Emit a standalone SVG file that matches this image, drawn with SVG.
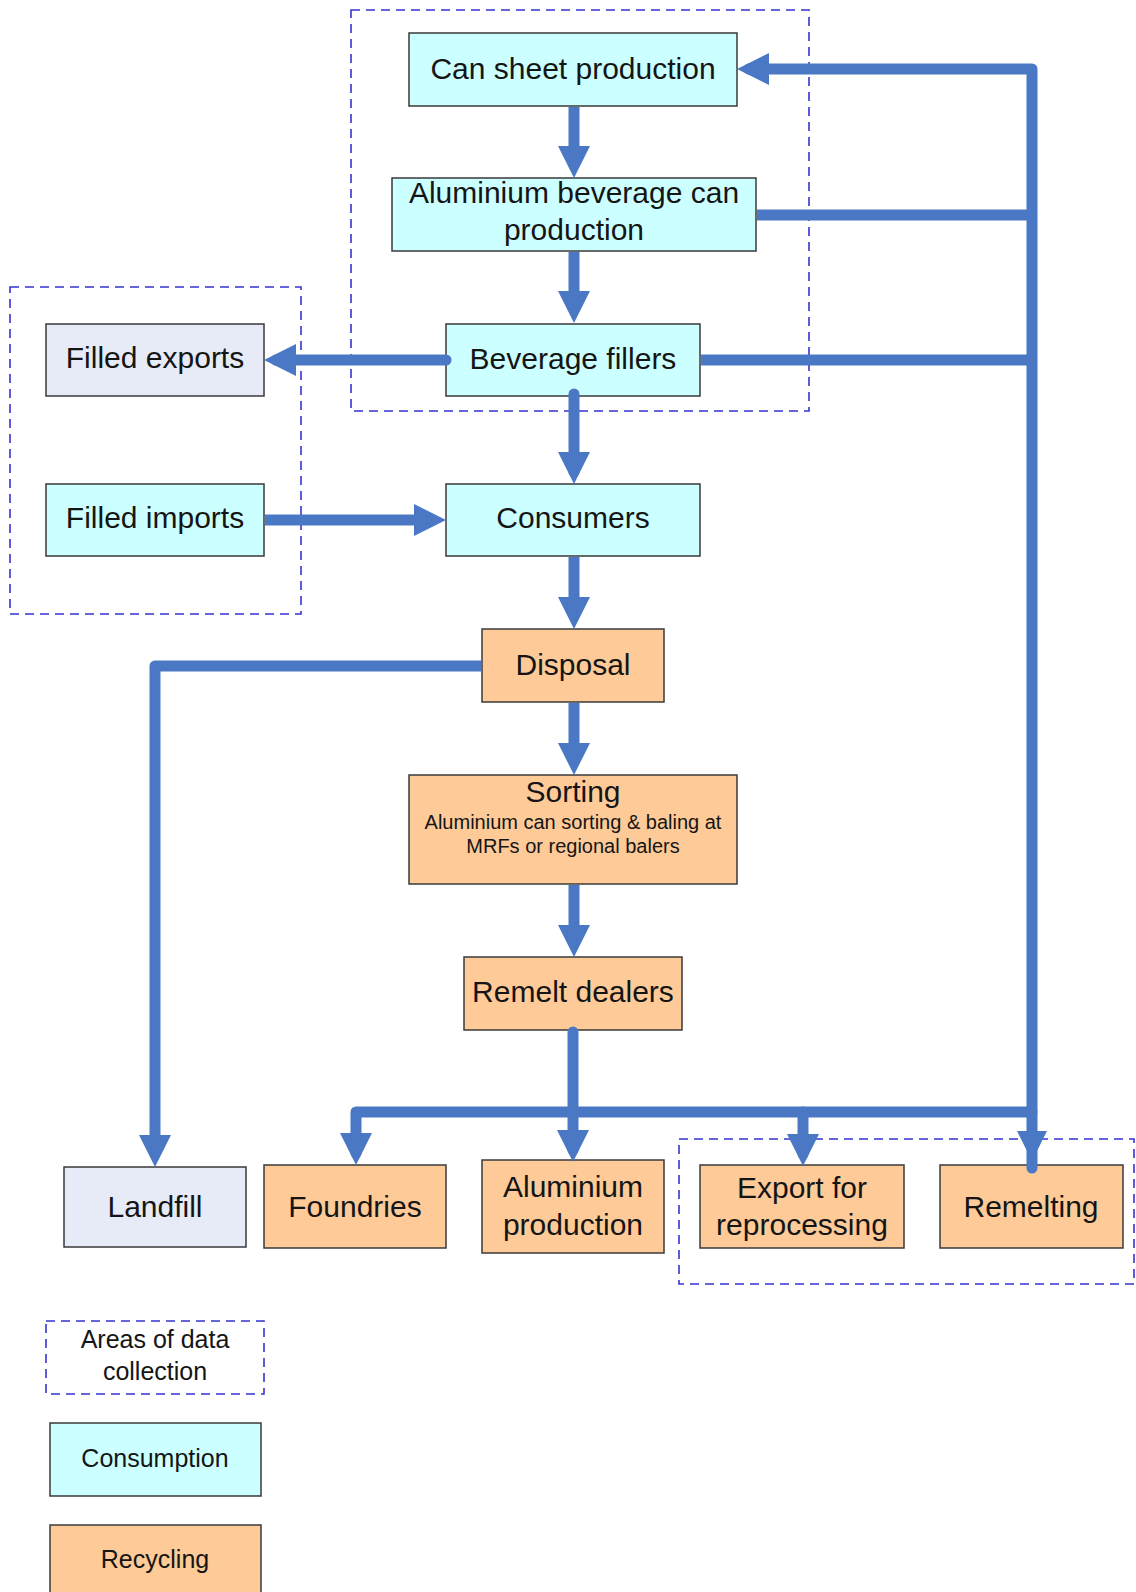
<svg xmlns="http://www.w3.org/2000/svg" width="1136" height="1592" viewBox="0 0 1136 1592">
  <style>
    .box { stroke: #3a3a3a; stroke-width: 1.5; }
    .cons { fill: #ccffff; }
    .recy { fill: #fdca98; }
    .ext { fill: #e6ebf7; }
    .area { fill: none; stroke: #3535d0; stroke-width: 1.6; stroke-dasharray: 9 6; }
    .lbl { font-family: "Liberation Sans", Arial, sans-serif; font-size: 30px; fill: #151515; text-anchor: middle; }
    .sub { font-size: 20px; }
    .leg { font-size: 25px; }
    .flow { fill: none; stroke: #4a78c5; stroke-width: 11; stroke-linecap: round; stroke-linejoin: round; }
    .flat { stroke-linecap: butt; }
    .head { fill: #4a78c5; }
  </style>
  <defs>
    <marker id="arrow" markerUnits="userSpaceOnUse" viewBox="0 0 32 32" markerWidth="32" markerHeight="32" refX="20" refY="16" orient="auto">
      <path d="M0,0 L32,16 L0,32 Z" fill="#4a78c5"/>
    </marker>
  </defs>

  <rect width="1136" height="1592" fill="#ffffff"/>

  <!-- areas of data collection -->
  <g id="areas">
    <rect class="area" x="351" y="10" width="458" height="401"/>
    <rect class="area" x="10" y="287" width="291" height="327"/>
    <rect class="area" x="679" y="1139" width="455" height="145"/>
  </g>

  <!-- consumption nodes -->
  <g id="can-sheet-production">
    <rect class="box cons" x="409" y="33" width="328" height="73"/>
    <text class="lbl" x="573" y="79">Can sheet production</text>
  </g>
  <g id="beverage-can-production">
    <rect class="box cons" x="392" y="178" width="364" height="73"/>
    <text class="lbl" x="574" y="203">Aluminium beverage can</text>
    <text class="lbl" x="574" y="240">production</text>
  </g>
  <g id="beverage-fillers">
    <rect class="box cons" x="446" y="324" width="254" height="72"/>
    <text class="lbl" x="573" y="369">Beverage fillers</text>
  </g>
  <g id="filled-exports">
    <rect class="box ext" x="46" y="324" width="218" height="72"/>
    <text class="lbl" x="155" y="368">Filled exports</text>
  </g>
  <g id="filled-imports">
    <rect class="box cons" x="46" y="484" width="218" height="72"/>
    <text class="lbl" x="155" y="528">Filled imports</text>
  </g>
  <g id="consumers">
    <rect class="box cons" x="446" y="484" width="254" height="72"/>
    <text class="lbl" x="573" y="528">Consumers</text>
  </g>

  <!-- recycling nodes -->
  <g id="disposal">
    <rect class="box recy" x="482" y="629" width="182" height="73"/>
    <text class="lbl" x="573" y="675">Disposal</text>
  </g>
  <g id="sorting">
    <rect class="box recy" x="409" y="775" width="328" height="109"/>
    <text class="lbl" x="573" y="802">Sorting</text>
    <text class="lbl sub" x="573" y="829">Aluminium can sorting &amp; baling at</text>
    <text class="lbl sub" x="573" y="853">MRFs or regional balers</text>
  </g>
  <g id="remelt-dealers">
    <rect class="box recy" x="464" y="957" width="218" height="73"/>
    <text class="lbl" x="573" y="1002">Remelt dealers</text>
  </g>
  <g id="landfill">
    <rect class="box ext" x="64" y="1167" width="182" height="80"/>
    <text class="lbl" x="155" y="1217">Landfill</text>
  </g>
  <g id="foundries">
    <rect class="box recy" x="264" y="1165" width="182" height="83"/>
    <text class="lbl" x="355" y="1217">Foundries</text>
  </g>
  <g id="aluminium-production">
    <rect class="box recy" x="482" y="1160" width="182" height="93"/>
    <text class="lbl" x="573" y="1197">Aluminium</text>
    <text class="lbl" x="573" y="1235">production</text>
  </g>
  <g id="export-for-reprocessing">
    <rect class="box recy" x="700" y="1165" width="204" height="83"/>
    <text class="lbl" x="802" y="1198">Export for</text>
    <text class="lbl" x="802" y="1235">reprocessing</text>
  </g>
  <g id="remelting">
    <rect class="box recy" x="940" y="1165" width="183" height="83"/>
    <text class="lbl" x="1031" y="1217">Remelting</text>
  </g>

  <!-- flows -->
  <g id="connectors">
    <path class="flow flat" d="M574,107 V166" marker-end="url(#arrow)"/>
    <path class="flow flat" d="M574,252 V311" marker-end="url(#arrow)"/>
    <path class="flow" d="M574,394 V472" marker-end="url(#arrow)"/>
    <path class="flow flat" d="M574,557 V617" marker-end="url(#arrow)"/>
    <path class="flow flat" d="M574,703 V763" marker-end="url(#arrow)"/>
    <path class="flow flat" d="M574,885 V945" marker-end="url(#arrow)"/>
    <path class="flow" d="M573,1032 V1150" marker-end="url(#arrow)"/>
    <path class="flow" d="M446,360 H276" marker-end="url(#arrow)"/>
    <path class="flow flat" d="M265,520 H434" marker-end="url(#arrow)"/>
    <path class="flow flat" d="M481,666 H155 V1155" marker-end="url(#arrow)" stroke-linejoin="miter"/>
    <path class="flow" d="M1032,1112 H356 V1153" marker-end="url(#arrow)"/>
    <path class="flow" d="M803,1112 V1154" marker-end="url(#arrow)"/>
    <path class="flow flat" d="M757,215 H1032"/>
    <path class="flow flat" d="M701,360 H1032"/>
    <path class="flow" d="M1032,1168 V69 H749" marker-end="url(#arrow)"/>
    <polygon class="head" points="1017,1131 1047,1131 1032,1161"/>
  </g>

  <!-- key -->
  <g id="legend">
    <g id="legend-areas">
      <rect class="area" x="46" y="1321" width="218" height="73"/>
      <text class="lbl leg" x="155" y="1348">Areas of data</text>
      <text class="lbl leg" x="155" y="1380">collection</text>
    </g>
    <g id="legend-consumption">
      <rect class="box cons" x="50" y="1423" width="211" height="73"/>
      <text class="lbl leg" x="155" y="1467">Consumption</text>
    </g>
    <g id="legend-recycling">
      <rect class="box recy" x="50" y="1525" width="211" height="80"/>
      <text class="lbl leg" x="155" y="1568">Recycling</text>
    </g>
  </g>
</svg>
